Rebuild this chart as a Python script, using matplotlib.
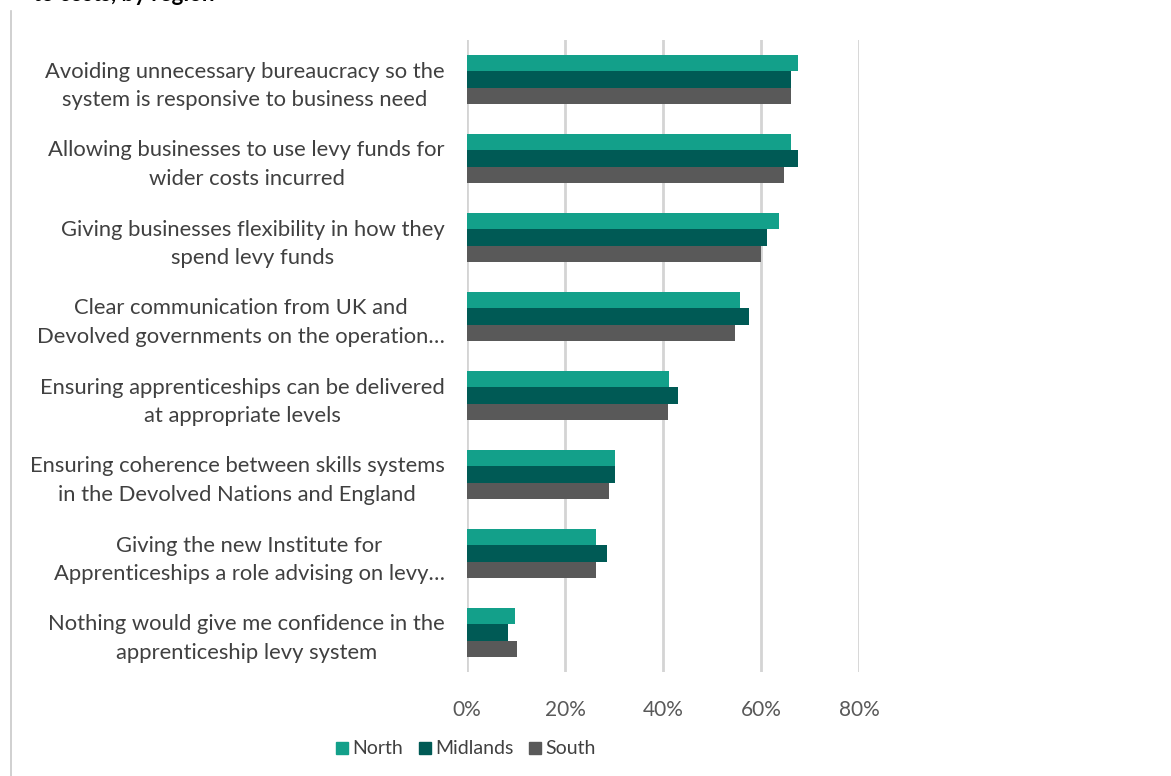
import matplotlib.pyplot as plt
from matplotlib.lines import Line2D
import numpy as np

plt.rcParams['font.family'] = ['Lato', 'DejaVu Sans']

categories = [
    'Avoiding unnecessary bureaucracy so the\nsystem is responsive to business need',
    'Allowing businesses to use levy funds for\nwider costs incurred',
    'Giving businesses flexibility in how they\nspend levy funds',
    'Clear communication from UK and\nDevolved governments on the operation\u2026',
    'Ensuring apprenticeships can be delivered\nat appropriate levels',
    'Ensuring coherence between skills systems\nin the Devolved Nations and England',
    'Giving the new Institute for\nApprenticeships a role advising on levy\u2026',
    'Nothing would give me confidence in the\napprenticeship levy system',
]
north = [67.5, 66.1, 63.7, 55.7, 41.3, 30.3, 26.4, 9.7]
midlands = [66.1, 67.5, 61.2, 57.6, 43.1, 30.3, 28.5, 8.4]
south = [66.1, 64.6, 59.9, 54.7, 41.1, 29.0, 26.4, 10.2]
series_names = ['North', 'Midlands', 'South']
colors = ['#13A08A', '#005A55', '#595959']
xticks = [0, 20, 40, 60, 80]

fig = plt.figure(figsize=(11.71, 7.76), dpi=100)
ax = fig.add_axes([467 / 1171, 1 - 672 / 776, (859 - 467) / 1171, (672 - 40) / 776])

y = np.arange(len(categories))
h = 0.21
for i, (vals, col) in enumerate(zip([north, midlands, south], colors)):
    ax.barh(y + (i - 1) * h, vals, height=h, color=col, zorder=3)

ax.set_ylim(len(categories) - 0.5, -0.5)
ax.set_xlim(0, 80)
ax.set_xticks(xticks)
ax.set_xticklabels([f'{t}%' for t in xticks], fontsize=15, color='#595959')
ax.set_yticks(y)
ax.set_yticklabels(categories, fontsize=15.8, color='#404040',
                   multialignment='center', linespacing=1.55)
ax.tick_params(axis='both', length=0)
ax.tick_params(axis='x', pad=20)
ax.tick_params(axis='y', pad=16)
ax.grid(axis='x', color='#d4d4d4', linewidth=2, zorder=0)
for s in ax.spines.values():
    s.set_visible(False)

handles = [Line2D([], [], marker='s', linestyle='', markersize=8.5, color=c) for c in colors]
fig.legend(handles, series_names, loc='center', bbox_to_anchor=(466 / 1171, 1 - 749 / 776),
           ncol=3, frameon=False, fontsize=14, handlelength=0.6, handletextpad=0.25,
           columnspacing=0.8, labelcolor='#404040')

# left border line and clipped title from the source page
fig.add_artist(Line2D([11 / 1171, 11 / 1171], [0, 1 - 11 / 776], color='#c8c8c8', linewidth=1.2))
fig.text(33 / 1171, 1 - 1 / 776, 'to costs, by region', fontsize=16, fontweight='bold',
         color='black', va='baseline')

fig.savefig('out.png', dpi=100)
